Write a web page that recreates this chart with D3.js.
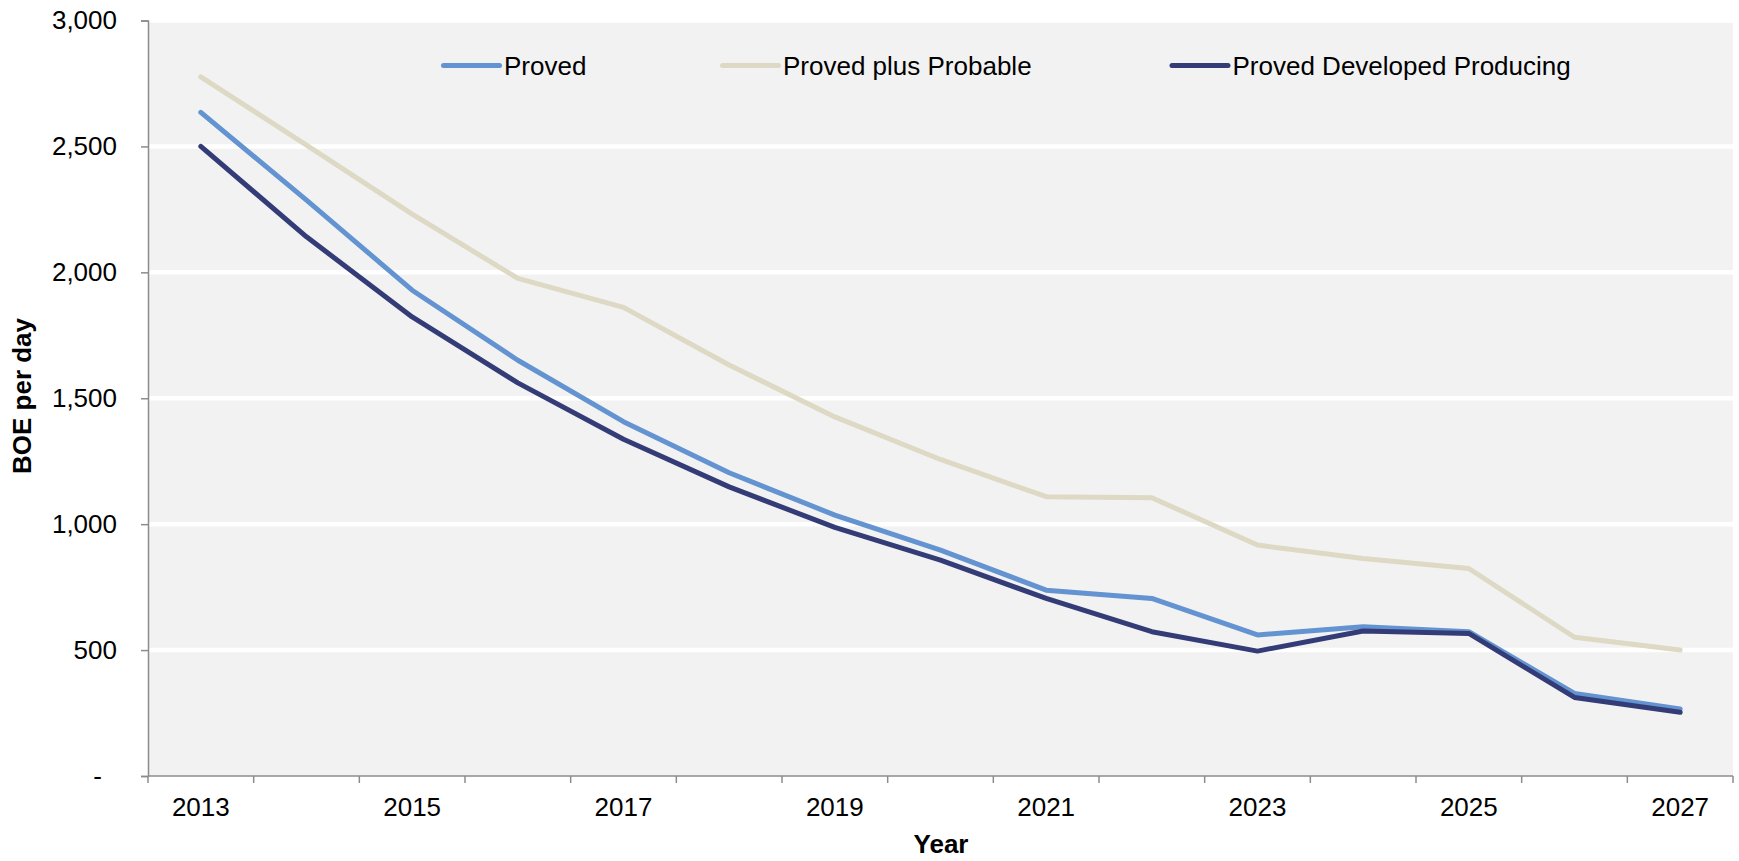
<!DOCTYPE html>
<html>
<head>
<meta charset="utf-8">
<script src="https://cdn.jsdelivr.net/npm/d3@7"></script>
<style>
  html, body { margin: 0; padding: 0; background: #ffffff; }
  svg { display: block; font-family: "Liberation Sans", Arial, sans-serif; }
</style>
</head>
<body>
<svg id="chart" width="1739" height="861"></svg>
<script>
const years = [2013, 2014, 2015, 2016, 2017, 2018, 2019, 2020, 2021, 2022, 2023, 2024, 2025, 2026, 2027];
const proved = [2635, 2287, 1929, 1651, 1407, 1204, 1036, 897, 738, 705, 560, 593, 573, 328, 266];
const provedPlusProbable = [2776, 2505, 2231, 1976, 1861, 1632, 1426, 1257, 1109, 1105, 917, 864, 824, 551, 500];
const provedDevelopedProducing = [2500, 2141, 1823, 1561, 1337, 1148, 987, 857, 705, 573, 496, 576, 566, 312, 253];
const yTicks = [0, 500, 1000, 1500, 2000, 2500, 3000];
const xLabelYears = [2013, 2015, 2017, 2019, 2021, 2023, 2025, 2027];
const seriesNames = ["Proved", "Proved plus Probable", "Proved Developed Producing"];
const seriesColors = ["#6393d0", "#ddd9c4", "#343c77"];

(function () {
const svg = d3.select("#chart");
const pLeft = 148, pRight = 1733, pTop = 20.5, pBottom = 776;

const x = d3.scaleBand().domain(years).range([pLeft, pRight]).padding(0);
const y = d3.scaleLinear().domain([0, 3000]).range([pBottom, pTop]);
const cx = d => x(d) + x.bandwidth() / 2;

// plot background
svg.append("rect").attr("x", pLeft).attr("y", pTop).attr("width", pRight - pLeft).attr("height", pBottom - pTop).attr("fill", "#f2f2f2");

// gridlines
svg.append("g").selectAll("line").data(yTicks.filter(v => v > 0)).join("line")
  .attr("x1", pLeft).attr("x2", pRight)
  .attr("y1", d => y(d)).attr("y2", d => y(d))
  .attr("stroke", "#ffffff").attr("stroke-width", 4.5);

// y axis
const yAxis = d3.axisLeft(y).tickValues(yTicks).tickSize(7).tickPadding(24)
  .tickFormat(d => d === 0 ? "-" : d3.format(",")(d));
const gy = svg.append("g").attr("transform", `translate(${pLeft},0)`).call(yAxis);
gy.select(".domain").attr("stroke", "#8c8c8c").attr("stroke-width", 1.5);
gy.selectAll(".tick line").attr("stroke", "#8c8c8c").attr("stroke-width", 1.5);
gy.selectAll(".tick text").attr("font-size", 26).attr("fill", "#000").attr("font-family", "Liberation Sans, Arial, sans-serif")
  .attr("dx", d => d === 0 ? -15 : 0);

// x axis line and ticks at category boundaries
const gx = svg.append("g");
gx.append("line").attr("x1", pLeft).attr("x2", pRight).attr("y1", pBottom).attr("y2", pBottom)
  .attr("stroke", "#8c8c8c").attr("stroke-width", 1.5);
const boundaries = years.map(d => x(d)).concat([x(years[years.length - 1]) + x.bandwidth()]);
gx.selectAll("line.tk").data(boundaries).join("line").attr("class", "tk")
  .attr("x1", d => d).attr("x2", d => d).attr("y1", pBottom).attr("y2", pBottom + 7)
  .attr("stroke", "#8c8c8c").attr("stroke-width", 1.5);
gx.selectAll("text").data(xLabelYears).join("text")
  .attr("x", d => cx(d)).attr("y", 816).attr("text-anchor", "middle")
  .attr("font-size", 26).attr("fill", "#000").text(d => d);

// axis titles
svg.append("text").attr("x", 941).attr("y", 853).attr("text-anchor", "middle")
  .attr("font-size", 26).attr("font-weight", "bold").attr("fill", "#000").text("Year");
svg.append("text").attr("transform", "translate(30.5,396) rotate(-90)").attr("text-anchor", "middle")
  .attr("font-size", 26).attr("font-weight", "bold").attr("fill", "#000").text("BOE per day");

// lines
const allSeries = [proved, provedPlusProbable, provedDevelopedProducing];
const line = d3.line().x((d, i) => cx(years[i])).y(d => y(d));
svg.append("g").selectAll("path").data(allSeries).join("path")
  .attr("d", d => line(d)).attr("fill", "none")
  .attr("stroke", (d, i) => seriesColors[i]).attr("stroke-width", 5)
  .attr("stroke-linejoin", "round").attr("stroke-linecap", "round");

// legend
const legendX = [443.5, 722.5, 1172];
const lg = svg.append("g");
seriesNames.forEach((name, i) => {
  lg.append("line").attr("x1", legendX[i]).attr("x2", legendX[i] + 56).attr("y1", 65.5).attr("y2", 65.5)
    .attr("stroke", seriesColors[i]).attr("stroke-width", 5).attr("stroke-linecap", "round");
  lg.append("text").attr("x", legendX[i] + 60.5).attr("y", 74.5).attr("font-size", 26).attr("fill", "#000").text(name);
});
})();
</script>
</body>
</html>
